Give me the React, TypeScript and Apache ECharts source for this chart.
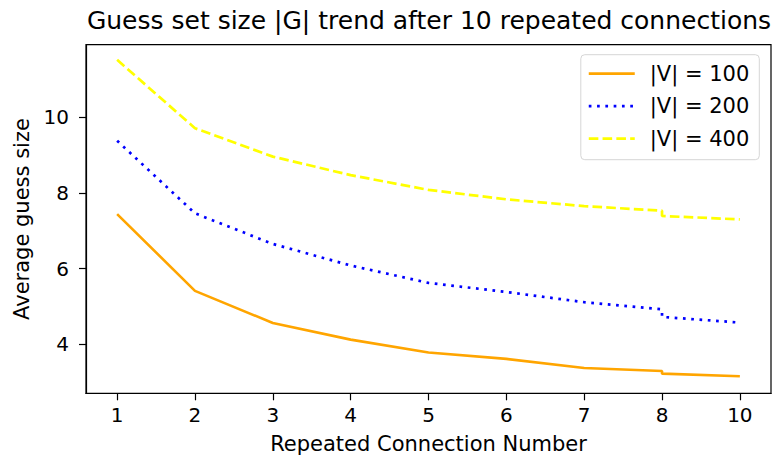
import React, { useEffect, useRef } from "react";
import * as echarts from "echarts";

const categories = ["1", "2", "3", "4", "5", "6", "7", "8", "10"];
const pointCategory = ["1", "2", "3", "4", "5", "6", "7", "8", "8", "10"];
const v100 = [7.44, 5.41, 4.56, 4.12, 3.78, 3.61, 3.37, 3.29, 3.22, 3.15];
const v200 = [9.38, 7.46, 6.65, 6.08, 5.62, 5.38, 5.11, 4.92, 4.72, 4.57];
const v400 = [11.52, 9.71, 8.96, 8.47, 8.08, 7.83, 7.65, 7.53, 7.39, 7.3];
const yTicks = [4, 6, 8, 10];
const seriesNames = ["|V| = 100", "|V| = 200", "|V| = 400"];

const FONT = "DejaVu Sans";

function toPairs(vals: number[]) {
  return vals.map((v, i) => [categories.indexOf(pointCategory[i]), v]);
}

export default function App() {
  const ref = useRef<HTMLDivElement>(null);
  useEffect(() => {
    if (!ref.current) return;
    const chart = echarts.init(ref.current, undefined, { renderer: "svg" });
    const catIdx = categories.map((_, i) => i);
    chart.setOption({
      animation: false,
      backgroundColor: "#ffffff",
      title: {
        text: "Guess set size |G| trend after 10 repeated connections",
        left: 424,
        textAlign: "center",
        top: 3,
        textStyle: { fontFamily: FONT, fontSize: 25, fontWeight: "normal", color: "#000" },
      },
      legend: {
        orient: "vertical",
        right: 19.7,
        top: 54.7,
        padding: [8, 10, 10, 6.6],
        backgroundColor: "#fff",
        borderColor: "#d6d6d6",
        borderWidth: 1,
        borderRadius: 4,
        itemWidth: 46,
        itemHeight: 14,
        itemGap: 10.5,
        itemStyle: { opacity: 0 },
        lineStyle: { width: 2.7 },
        textStyle: { fontFamily: FONT, fontSize: 21, lineHeight: 22, color: "#000", padding: [0, 0, 0, 10] },
        data: seriesNames,
      },
      grid: {
        left: 86,
        right: 8,
        top: 44.7,
        bottom: 67.7,
        show: true,
        borderColor: "#000",
        borderWidth: 1.2,
        backgroundColor: "transparent",
      },
      xAxis: {
        type: "value",
        min: -0.4,
        max: 8.4,
        name: "Repeated Connection Number",
        nameLocation: "middle",
        nameGap: 40,
        nameTextStyle: { fontFamily: FONT, fontSize: 21, color: "#000" },
        axisLine: { show: true, onZero: false, lineStyle: { color: "#000", width: 1.2 } },
        axisTick: { show: true, length: 7, customValues: catIdx, lineStyle: { color: "#000", width: 1.2 } },
        axisLabel: {
          customValues: catIdx,
          formatter: (v: number) => categories[Math.round(v)] ?? "",
          fontFamily: FONT,
          fontSize: 20,
          color: "#000",
          margin: 12,
        },
        splitLine: { show: false },
      },
      yAxis: {
        type: "value",
        min: 2.7,
        max: 11.92,
        name: "Average guess size",
        nameLocation: "middle",
        nameGap: 52,
        nameTextStyle: { fontFamily: FONT, fontSize: 21, color: "#000" },
        axisLine: { show: true, onZero: false, lineStyle: { color: "#000", width: 1.2 } },
        axisTick: { show: true, length: 7, customValues: yTicks, lineStyle: { color: "#000", width: 1.2 } },
        axisLabel: {
          customValues: yTicks,
          formatter: (v: number) => String(v),
          fontFamily: FONT,
          fontSize: 20,
          color: "#000",
          margin: 17,
        },
        splitLine: { show: false },
      },
      series: [
        {
          name: seriesNames[0],
          type: "line",
          data: toPairs(v100),
          symbol: "none",
          lineStyle: { color: "#ffa500", width: 2.6, type: "solid" },
          itemStyle: { color: "#ffa500" },
        },
        {
          name: seriesNames[1],
          type: "line",
          data: toPairs(v200),
          symbol: "none",
          lineStyle: { color: "#0000ff", width: 2.7, type: [2.7, 5.6], cap: "butt" },
          itemStyle: { color: "#0000ff" },
        },
        {
          name: seriesNames[2],
          type: "line",
          data: toPairs(v400),
          symbol: "none",
          lineStyle: { color: "#ffff00", width: 2.7, type: [9.6, 4.2], cap: "butt" },
          itemStyle: { color: "#ffff00" },
        },
      ],
    });
    return () => chart.dispose();
  }, []);
  return <div ref={ref} style={{ position: "absolute", left: 0, top: 0, width: 779, height: 461 }} />;
}
